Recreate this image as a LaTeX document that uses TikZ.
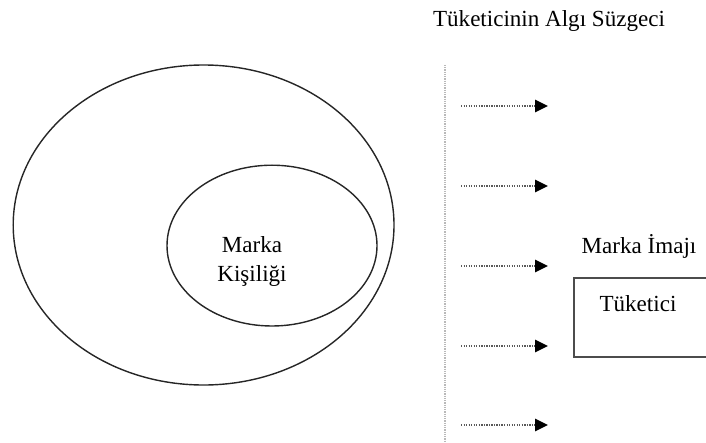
\documentclass[tikz,border=0pt]{standalone}
\usepackage{fontspec}
\setmainfont{Liberation Serif}
\usepackage{tikz}
\usetikzlibrary{arrows.meta,positioning}

\tikzset{
  txt/.style={font=\fontsize{16.4}{20.6}\selectfont,inner sep=0pt},
  ring/.style={draw=black!85,line width=1pt},
  filterline/.style={draw=gray!55,line width=1.1pt,dash pattern=on 0.8pt off 0.8pt},
  flowarrow/.style={draw=black!65,line width=1.6pt,dash pattern=on 0.9pt off 0.9pt,
    -{Triangle[length=0.32cm,width=0.3cm,black]}},
  framebox/.style={draw=black!70,line width=1.3pt,rectangle,inner sep=0pt}
}

\begin{document}
\begin{tikzpicture}
    \useasboundingbox (0,0) rectangle (17.65,11.05);
    \clip (0,0) rectangle (17.65,11.05);
    % brand circles
    \draw[ring] (5.09,5.425) ellipse (4.76 and 4.0);
    \draw[ring] (6.8,4.91) ellipse (2.625 and 2.01);
    \node[txt,align=center,anchor=north] (kisilik) at (6.3,5.15) {Marka\\Kişiliği};
    % perception filter
    \node[txt,anchor=base] (suzgec) at (13.725,10.375) {Tüketicinin Algı Süzgeci};
    \coordinate (ftop) at (11.125,9.425);
    \coordinate (fbot) at (11.125,0);
    \draw[filterline] (ftop) -- (fbot);
    \foreach \i/\y in {1/8.4,2/6.4,3/4.4,4/2.4,5/0.425} {
      \coordinate (s\i) at (11.525,\y);
      \coordinate (e\i) at (13.7,\y);
      \draw[flowarrow] (s\i) -- (e\i);
    }
    % consumer side
    \node[txt,anchor=base] (imaj) at (15.975,4.725) {Marka İmajı};
    \node[framebox,anchor=north west,minimum width=3.55cm,minimum height=1.975cm] (kutu) at (14.325,4.125) {};
    \node[txt,anchor=base] (tuketici) at (15.95,3.275) {Tüketici};
\end{tikzpicture}
\end{document}
